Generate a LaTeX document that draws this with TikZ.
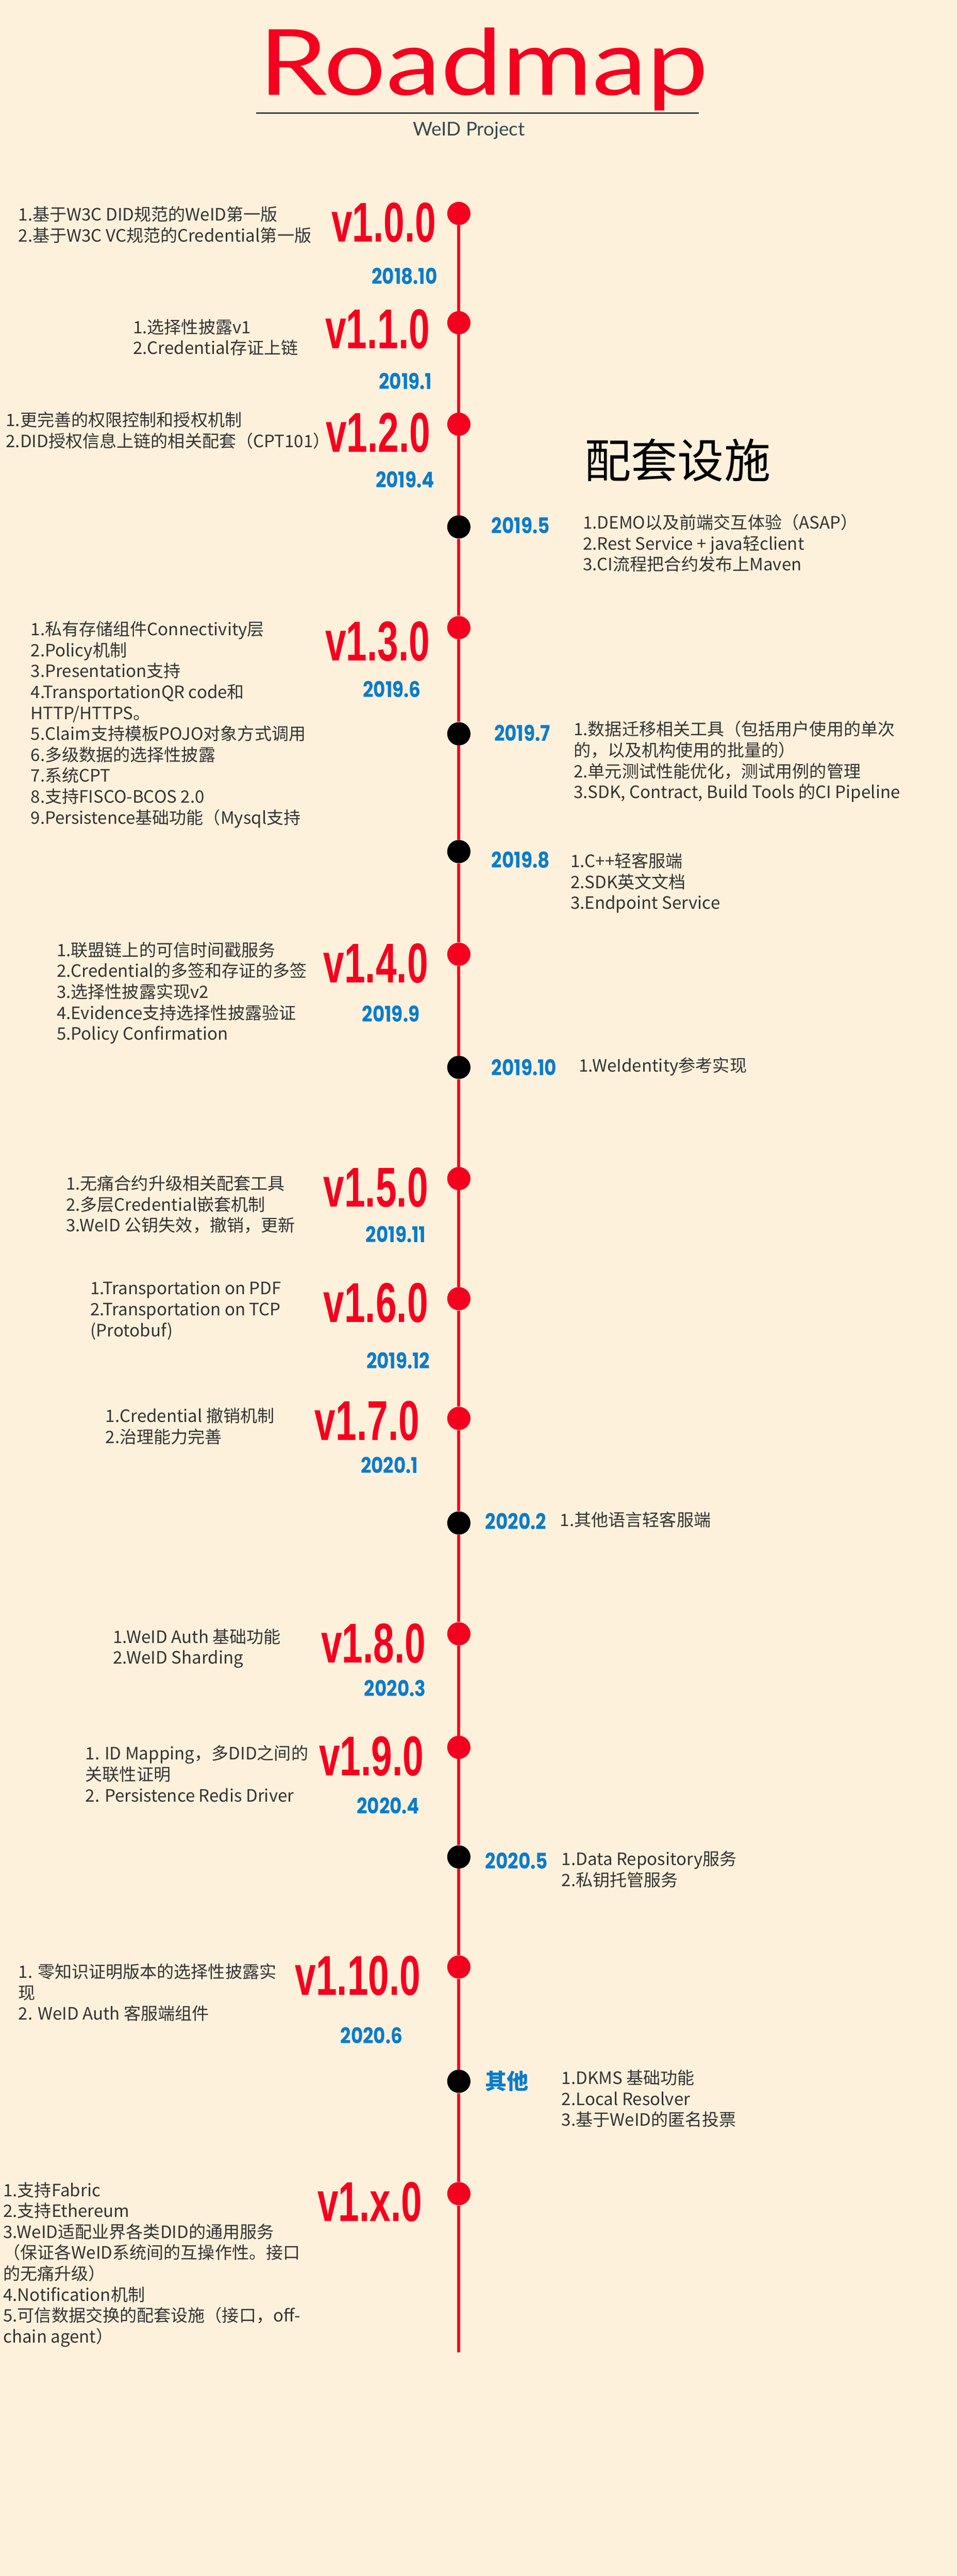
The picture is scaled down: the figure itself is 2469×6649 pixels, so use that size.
\documentclass[tikz,border=0pt]{standalone}
\usepackage{fontspec}
\setmainfont{Noto Sans CJK SC}
\newfontfamily\titlefont[FakeStretch=1.2]{Lato}
\newfontfamily\subfont{Lato}
\newfontfamily\verfont[FakeStretch=0.67]{Liberation Sans}
\newfontfamily\datefont[FakeStretch=0.85]{Poppins}

\definecolor{bgcream}{HTML}{FEF1DC}
\definecolor{rmred}{HTML}{F5001E}
\definecolor{rmblue}{HTML}{0A7CCB}
\definecolor{rmgrey}{HTML}{333333}
\definecolor{rmslate}{HTML}{37474F}

\begin{document}
\begin{tikzpicture}[x=0.5pt,y=-0.5pt,every node/.style={inner sep=0pt},
        dot/.style={circle,fill=rmred,minimum size=30pt},
        minor/.style={dot,fill=black},
        ver/.style={anchor=base east,text=rmred,
          font=\verfont\bfseries\fontsize{72.5}{72.5}\selectfont},
        date/.style={anchor=base east,text=rmblue,
          font=\datefont\bfseries\fontsize{28}{28}\selectfont},
        rdate/.style={date,anchor=base west},
        items/.style={anchor=west,align=left,text=rmgrey,
          font=\fontsize{22}{27}\selectfont},
        timeline/.style={rmred,line width=4pt}]

  \fill[bgcream] (0,0) rectangle (2469,6649);
  \useasboundingbox (0,0) rectangle (2469,6649);

  % heading
  \node[anchor=base,text=rmred,font=\titlefont\fontsize{118}{118}\selectfont]
    (title) at (1248,245) {Roadmap};
  \draw[rmslate,line width=1.5pt] (661,292) -- (1803,292);
  \node[anchor=base,text=rmslate,font=\subfont\fontsize{24.5}{24.5}\selectfont]
    (project) at (1210,351) {WeID Project};
  \node[anchor=west,font=\fontsize{60}{60}\selectfont] (infra) at (1508,1188) {配套设施};

  % stops on the line
  \node[dot]   (v100)  at (1184,551)  {};
  \node[dot]   (v110)  at (1184,833)  {};
  \node[dot]   (v120)  at (1184,1095) {};
  \node[minor] (m195)  at (1184,1360) {};
  \node[dot]   (v130)  at (1184,1620) {};
  \node[minor] (m197)  at (1184,1894) {};
  \node[minor] (m198)  at (1184,2198) {};
  \node[dot]   (v140)  at (1184,2463) {};
  \node[minor] (m1910) at (1184,2755) {};
  \node[dot]   (v150)  at (1184,3042) {};
  \node[dot]   (v160)  at (1184,3352) {};
  \node[dot]   (v170)  at (1184,3661) {};
  \node[minor] (m202)  at (1184,3931) {};
  \node[dot]   (v180)  at (1184,4217) {};
  \node[dot]   (v190)  at (1184,4510) {};
  \node[minor] (m205)  at (1184,4793) {};
  \node[dot]   (v1100) at (1184,5077) {};
  \node[minor] (other) at (1184,5372) {};
  \node[dot]   (v1x0)  at (1184,5662) {};
  \coordinate  (end)   at (1184,6072);

  \draw[timeline] (v100) -- (v110) -- (v120) -- (m195) -- (v130) -- (m197)
    -- (m198) -- (v140) -- (m1910) -- (v150) -- (v160) -- (v170) -- (m202)
    -- (v180) -- (v190) -- (m205) -- (v1100) -- (other) -- (v1x0) -- (end);

  % versions
  \node[ver] (v100-l)  at (1126,624)  {v1.0.0};
  \node[ver] (v110-l)  at (1110,900)  {v1.1.0};
  \node[ver] (v120-l)  at (1111,1167) {v1.2.0};
  \node[ver] (v130-l)  at (1110,1705) {v1.3.0};
  \node[ver] (v140-l)  at (1105,2537) {v1.4.0};
  \node[ver] (v150-l)  at (1105,3115) {v1.5.0};
  \node[ver] (v160-l)  at (1105,3413) {v1.6.0};
  \node[ver] (v170-l)  at (1083,3718) {v1.7.0};
  \node[ver] (v180-l)  at (1099,4292) {v1.8.0};
  \node[ver] (v190-l)  at (1094,4583) {v1.9.0};
  \node[ver] (v1100-l) at (1086,5150) {v1.10.0};
  \node[ver] (v1x0-l)  at (1090,5733) {v1.x.0};

  % dates
  \node[date] (v100-d)  at (1129,733)  {2018.10};
  \node[date] (v110-d)  at (1115,1004) {2019.1};
  \node[date] (v120-d)  at (1121,1258) {2019.4};
  \node[date] (v130-d)  at (1086,1800) {2019.6};
  \node[date] (v140-d)  at (1083,2638) {2019.9};
  \node[date] (v150-d)  at (1099,3207) {2019.11};
  \node[date] (v160-d)  at (1110,3532) {2019.12};
  \node[date] (v170-d)  at (1079,3802) {2020.1};
  \node[date] (v180-d)  at (1099,4378) {2020.3};
  \node[date] (v190-d)  at (1083,4682) {2020.4};
  \node[date] (v1100-d) at (1039,5275) {2020.6};
  \node[rdate] (m195-d)  at (1268,1377) {2019.5};
  \node[rdate] (m197-d)  at (1275,1913) {2019.7};
  \node[rdate] (m198-d)  at (1268,2240) {2019.8};
  \node[rdate] (m1910-d) at (1268,2776) {2019.10};
  \node[rdate] (m202-d)  at (1252,3948) {2020.2};
  \node[rdate] (m205-d)  at (1252,4824) {2020.5};
  \node[rdate,font=\bfseries\fontsize{28}{28}\selectfont] (other-d) at (1252,5393) {其他};

  % release items
  \node[items] (v100-t) at (47,580)
    {1.基于W3C DID规范的WeID第一版\\2.基于W3C VC规范的Credential第一版};
  \node[items] (v110-t) at (343,871)
    {1.选择性披露v1\\2.Credential存证上链};
  \node[items] (v120-t) at (15,1111)
    {1.更完善的权限控制和授权机制\\2.DID授权信息上链的相关配套（CPT101）};
  \node[items] (v130-t) at (79,1870)
    {1.私有存储组件Connectivity层\\2.Policy机制\\3.Presentation支持\\
     4.TransportationQR code和\\HTTP/HTTPS。\\5.Claim支持模板POJO对象方式调用\\
     6.多级数据的选择性披露\\7.系统CPT\\8.支持FISCO-BCOS 2.0\\
     9.Persistence基础功能（Mysql支持};
  \node[items] (v140-t) at (146,2563)
    {1.联盟链上的可信时间戳服务\\2.Credential的多签和存证的多签\\3.选择性披露实现v2\\
     4.Evidence支持选择性披露验证\\5.Policy Confirmation};
  \node[items] (v150-t) at (170,3109)
    {1.无痛合约升级相关配套工具\\2.多层Credential嵌套机制\\3.WeID 公钥失效，撤销，更新};
  \node[items] (v160-t) at (233,3383)
    {1.Transportation on PDF\\2.Transportation on TCP\\(Protobuf)};
  \node[items] (v170-t) at (272,3681)
    {1.Credential 撤销机制\\2.治理能力完善};
  \node[items] (v180-t) at (291,4255)
    {1.WeID Auth 基础功能\\2.WeID Sharding};
  \node[items] (v190-t) at (220,4578)
    {1. ID Mapping，多DID之间的\\关联性证明\\2. Persistence Redis Driver};
  \node[items] (v1100-t) at (47,5143)
    {1. 零知识证明版本的选择性披露实\\现\\2. WeID Auth 客服端组件};
  \node[items] (v1x0-t) at (8,5845)
    {1.支持Fabric\\2.支持Ethereum\\3.WeID适配业界各类DID的通用服务\\
     （保证各WeID系统间的互操作性。接口\\的无痛升级）\\4.Notification机制\\
     5.可信数据交换的配套设施（接口，off-\\chain agent）};

  % infrastructure items
  \node[items] (m195-t) at (1504,1402)
    {1.DEMO以及前端交互体验（ASAP）\\2.Rest Service + java轻client\\3.CI流程把合约发布上Maven};
  \node[items] (m197-t) at (1480,1966)
    {1.数据迁移相关工具（包括用户使用的单次\\的，以及机构使用的批量的）\\
     2.单元测试性能优化，测试用例的管理\\3.SDK, Contract, Build Tools 的CI Pipeline};
  \node[items] (m198-t) at (1472,2279)
    {1.C++轻客服端\\2.SDK英文文档\\3.Endpoint Service};
  \node[items] (m1910-t) at (1493,2753) {1.WeIdentity参考实现};
  \node[items] (m202-t) at (1445,3922) {1.其他语言轻客服端};
  \node[items] (m205-t) at (1449,4825)
    {1.Data Repository服务\\2.私钥托管服务};
  \node[items] (other-t) at (1449,5417)
    {1.DKMS 基础功能\\2.Local Resolver\\3.基于WeID的匿名投票};

\end{tikzpicture}
\end{document}
